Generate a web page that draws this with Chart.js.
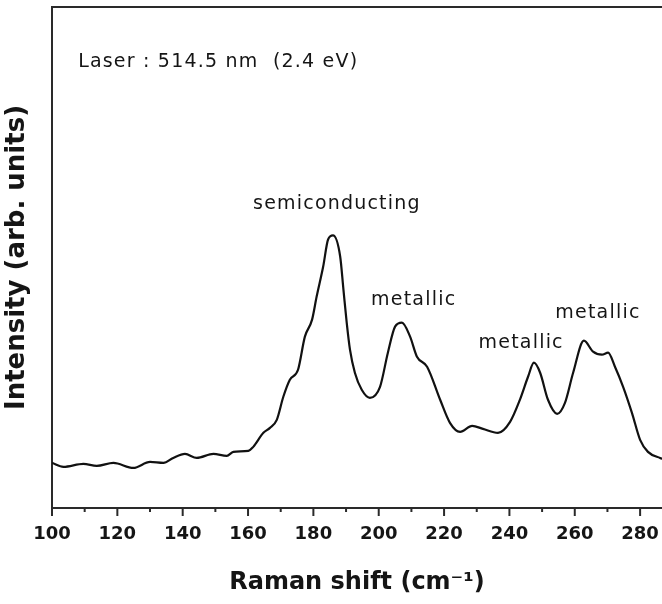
<!DOCTYPE html>
<html>
<head>
<meta charset="utf-8">
<script src="https://cdn.jsdelivr.net/npm/chart.js@4.4.1/dist/chart.umd.min.js"></script>
<style>
  html, body { margin: 0; padding: 0; background: #fff; }
  #wrap { width: 662px; height: 604px; position: relative; }
  #chart { filter: blur(0.4px); }
</style>
</head>
<body>
<div id="wrap"><canvas id="chart"></canvas></div>
<script>
// Raman spectrum, RBM region
const shift = [100, 103.5, 109.6, 113.7, 118.8, 124.9, 130, 134.1, 137.1, 140.7, 144.3, 149.4, 153.5, 155.5,
    160.1, 161.6, 164.7, 166.7, 168.8, 170.8, 172.8, 175.3, 177.4, 179.6, 181, 183, 184.5, 186, 188.2, 189.2,
    190.2, 191.2, 192.7, 194.8, 197.3, 200.4, 202.8, 205, 207.1, 209.6, 211.7, 214.8, 218.8, 221.8, 224.9,
    228.6, 231.9, 236.5, 240.2, 243.2, 245.7, 247.5, 249.4, 251.8, 254.6, 257, 259.5, 262.8, 265.6, 268.3,
    270.2, 272.3, 274.8, 277.5, 280, 282.4, 286.1, 288];
const intensity = [45, 41, 44, 42, 45, 40, 46, 45, 50, 54, 50, 54, 52, 56,
    57, 61, 75, 80, 88, 111, 128, 138, 171, 188, 211, 241, 268, 272, 251, 218,
    185, 158, 135, 118, 110, 121, 155, 181, 185, 171, 151, 141, 108, 85, 76,
    82, 79, 75, 86, 108, 131, 145, 135, 108, 94, 105, 135, 167, 156, 153,
    155, 141, 121, 95, 68, 56, 50, 48];

// axis setup
const xMin = 100;
const xMax = 286.7;
const tickStep = 10;
const labelStep = 20;

// text placed inside the plot (data coordinates)
const noteText = ['semiconducting', 'metallic', 'metallic', 'metallic'];
const noteX = [187.2, 210.7, 243.6, 267.1];
const noteY = [303, 208, 165, 195];
const laserText = 'Laser : 514.5 nm  (2.4 eV)';
const laserX = 108;
const laserY = 445;

const ink = '#151515';

const extras = {
    id: 'extras',
    afterDraw(chart) {
        const ctx = chart.ctx;
        const area = chart.chartArea;
        const xs = chart.scales.x;
        const ys = chart.scales.y;

        ctx.save();
        // top frame line
        ctx.strokeStyle = '#2a2a2a';
        ctx.lineWidth = 2;
        ctx.beginPath();
        ctx.moveTo(area.left - 1, area.top);
        ctx.lineTo(chart.width, area.top);
        ctx.stroke();

        // major / minor ticks below the x axis
        for (let v = xMin; v <= xMax; v += tickStep) {
            const px = xs.getPixelForValue(v);
            const len = (v % labelStep === 0) ? 8 : 4;
            ctx.beginPath();
            ctx.moveTo(px, area.bottom);
            ctx.lineTo(px, area.bottom + len);
            ctx.stroke();
        }

        // annotations
        ctx.fillStyle = ink;
        ctx.font = '19px "DejaVu Sans"';
        ctx.letterSpacing = '1.2px';
        ctx.textBaseline = 'middle';
        ctx.textAlign = 'center';
        noteText.forEach((t, i) => {
            ctx.fillText(t, xs.getPixelForValue(noteX[i]), ys.getPixelForValue(noteY[i]));
        });
        ctx.textAlign = 'left';
        ctx.fillText(laserText, xs.getPixelForValue(laserX), ys.getPixelForValue(laserY));
        ctx.restore();
    }
};

const ctx = document.getElementById('chart').getContext('2d');

const chart = new Chart(ctx, {
    type: 'line',
    data: {
        datasets: [{
            data: shift.map((s, i) => ({ x: s, y: intensity[i] })),
            borderColor: '#111',
            borderWidth: 2.2,
            pointRadius: 0,
            cubicInterpolationMode: 'monotone',
            fill: false
        }]
    },
    options: {
        responsive: true,
        maintainAspectRatio: false,
        animation: false,
        layout: { padding: { top: 7, right: 0, bottom: 0, left: 0 } },
        plugins: {
            legend: { display: false },
            tooltip: { enabled: false }
        },
        scales: {
            x: {
                type: 'linear',
                min: xMin,
                max: xMax,
                afterFit: (scale) => {
                    scale.height = 96;
                    scale.paddingRight = 0;
                },
                grid: { display: false, drawTicks: false },
                border: { display: true, color: '#2a2a2a', width: 2 },
                ticks: {
                    stepSize: tickStep,
                    includeBounds: false,
                    autoSkip: false,
                    maxRotation: 0,
                    padding: 16,
                    color: ink,
                    font: { family: 'DejaVu Sans', size: 18, weight: 'bold' },
                    callback: (v) => (v % labelStep === 0 ? String(v) : '')
                },
                title: {
                    display: true,
                    text: 'Raman shift (cm⁻¹)',
                    color: ink,
                    font: { family: 'DejaVu Sans', size: 24, weight: 'bold' },
                    padding: { top: 0, bottom: 7 }
                }
            },
            y: {
                min: 0,
                max: 500,
                afterFit: (scale) => { scale.width = 52; },
                grid: { display: false, drawTicks: false },
                border: { display: true, color: '#2a2a2a', width: 2 },
                ticks: { display: false },
                title: {
                    display: true,
                    text: 'Intensity (arb. units)',
                    color: ink,
                    font: { family: 'DejaVu Sans', size: 26, weight: 'bold' },
                    padding: { top: 2, bottom: 0 }
                }
            }
        }
    },
    plugins: [extras]
});
</script>
</body>
</html>
